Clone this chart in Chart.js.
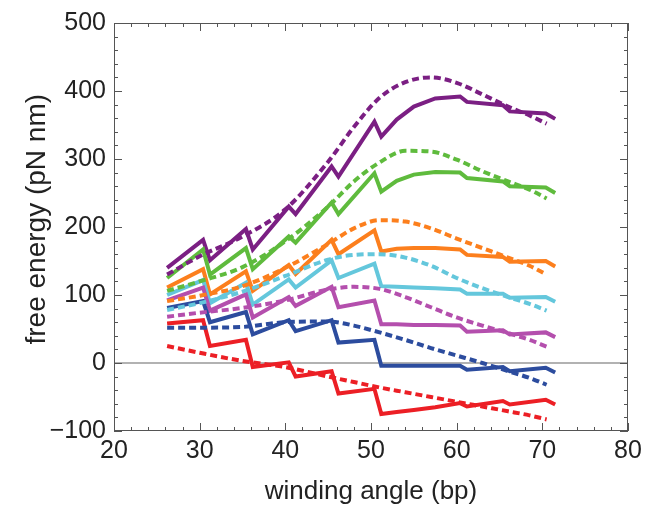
<!DOCTYPE html>
<html>
<head>
<meta charset="utf-8">
<script src="https://cdn.jsdelivr.net/npm/chart.js@4.4.0/dist/chart.umd.min.js"></script>
<style>
  html, body { margin: 0; padding: 0; background: #fff; }
</style>
</head>
<body>
<canvas id="energyChart" width="650" height="515"></canvas>
<script>
// x positions (bp) shared by the solid (simulation) curves and the dashed (model) curves
const solidX = [26.2, 30.4, 31.2, 35.4, 36.2, 40.4, 41.2, 45.4, 46.2, 50.4, 51.2, 53, 55, 57.5, 60.4, 61.2, 65.4, 66.2, 70.4, 71.5];
const dashX = [26.2, 30, 35, 40, 45, 48, 51, 54, 57, 60, 63, 66, 68.5, 70.5];

// solid curves, pN nm
const purpleSolid = [140, 181, 151, 197, 167, 230, 219, 289, 274, 355, 333, 358, 377, 389, 392, 384, 379, 370, 367, 359];
const greenSolid = [125, 167, 130, 169, 138, 186, 177, 236, 219, 279, 252, 268, 277, 281, 280, 272, 267, 260, 258, 250];
const orangeSolid = [111, 138, 101, 135, 106, 144, 131, 181, 160, 195, 164, 168, 169, 169, 167, 159, 156, 149, 150, 142];
const cyanSolid = [100, 122, 88, 118, 86, 123, 111, 151, 125, 146, 113, 112, 111, 110, 108, 102, 102, 96, 97, 90];
const magentaSolid = [92, 111, 77, 101, 67, 97, 84, 112, 82, 92, 57, 57, 56, 56, 55, 46, 48, 42, 45, 38];
const blueSolid = [81, 91, 60, 75, 42, 63, 47, 63, 30, 34, -4, -4, -4, -4, -4, -10, -6, -12, -7, -14];
const redSolid = [58, 63, 25, 34, -6, 1, -20, -12, -45, -38, -75, -72, -69, -65, -59, -64, -56, -61, -54, -61];

// dashed curves, pN nm
const purpleDash = [130, 157, 186, 226, 296, 347, 390, 413, 420, 412, 395, 377, 364, 352];
const greenDash = [106, 120, 141, 179, 230, 267, 295, 312, 311, 299, 282, 267, 255, 242];
const orangeDash = [91, 99, 113, 140, 175, 198, 210, 208, 198, 183, 169, 155, 143, 130];
const cyanDash = [78, 88, 105, 128, 152, 159, 160, 155, 143, 125, 110, 97, 87, 77];
const magentaDash = [68, 74, 81, 92, 108, 112, 109, 97, 82, 67, 55, 44, 34, 24];
const blueDash = [52, 52, 53, 60, 61, 55, 45, 34, 22, 11, 0, -12, -22, -32];
const redDash = [25, 15, 3, -6, -20, -28, -36, -43, -50, -57, -64, -71, -77, -83];

const zeroX = [20, 80];
const zeroY = [0, 0];

const colors = {
    purple: '#7b1f83',
    green: '#5fbb3d',
    orange: '#fc7f1d',
    cyan: '#64c7dc',
    magenta: '#b44fad',
    blue: '#2c4c9e',
    red: '#ec1f25'
};

function pts(xs, ys) {
    return xs.map((x, i) => ({ x: x, y: ys[i] }));
}

function solid(ys, color) {
    return {
        data: pts(solidX, ys),
        borderColor: color,
        borderWidth: 4,
        pointRadius: 0,
        tension: 0,
        order: 2
    };
}

function dashed(ys, color) {
    return {
        data: pts(dashX, ys),
        borderColor: color,
        borderWidth: 4,
        borderDash: [7, 4],
        pointRadius: 0,
        cubicInterpolationMode: 'monotone',
        order: 1
    };
}

// frame with inward ticks, Mathematica style
const frameTicks = {
    id: 'frameTicks',
    afterDatasetsDraw(chart) {
        const { ctx, chartArea: a, scales: { x, y } } = chart;
        ctx.save();
        ctx.strokeStyle = '#555';
        ctx.lineWidth = 1;
        ctx.strokeRect(a.left + 0.5, a.top + 0.5, a.right - a.left - 1, a.bottom - a.top - 1);
        ctx.beginPath();
        for (let v = 20; v <= 80; v += 2) {
            const px = Math.round(x.getPixelForValue(v)) + 0.5;
            const len = v % 10 === 0 ? 8 : 4;
            ctx.moveTo(px, a.bottom); ctx.lineTo(px, a.bottom - len);
            ctx.moveTo(px, a.top); ctx.lineTo(px, a.top + len);
        }
        for (let v = -100; v <= 500; v += 20) {
            const py = Math.round(y.getPixelForValue(v)) + 0.5;
            const len = v % 100 === 0 ? 8 : 4;
            ctx.moveTo(a.left, py); ctx.lineTo(a.left + len, py);
            ctx.moveTo(a.right, py); ctx.lineTo(a.right - len, py);
        }
        ctx.stroke();
        ctx.restore();
    }
};

const family = "'Liberation Sans', Arial, sans-serif";
const tickFont = { family: family, size: 25 };

new Chart(document.getElementById('energyChart').getContext('2d'), {
    type: 'scatter',
    data: {
        datasets: [
            dashed(redDash, colors.red),
            dashed(blueDash, colors.blue),
            dashed(magentaDash, colors.magenta),
            dashed(cyanDash, colors.cyan),
            dashed(orangeDash, colors.orange),
            dashed(greenDash, colors.green),
            dashed(purpleDash, colors.purple),
            solid(redSolid, colors.red),
            solid(blueSolid, colors.blue),
            solid(magentaSolid, colors.magenta),
            solid(cyanSolid, colors.cyan),
            solid(orangeSolid, colors.orange),
            solid(greenSolid, colors.green),
            solid(purpleSolid, colors.purple),
            {
                data: pts(zeroX, zeroY),
                borderColor: '#999',
                borderWidth: 1.5,
                pointRadius: 0,
                order: 3
            }
        ].map(d => Object.assign({ showLine: true, fill: false }, d))
    },
    options: {
        responsive: false,
        devicePixelRatio: 1,
        animation: false,
        layout: { padding: { top: 21, right: 22, left: 0, bottom: 0 } },
        plugins: {
            legend: { display: false },
            tooltip: { enabled: false }
        },
        scales: {
            x: {
                type: 'linear',
                min: 20,
                max: 80,
                grid: { display: false, drawTicks: false },
                border: { display: false },
                ticks: { stepSize: 10, color: '#222', font: tickFont, padding: 5, maxRotation: 0 },
                title: { display: true, text: 'winding angle (bp)', color: '#222', font: { family: family, size: 26 }, padding: { top: 0, bottom: 8 } },
                afterFit: s => { s.height = 84; }
            },
            y: {
                type: 'linear',
                min: -100,
                max: 500,
                grid: { display: false, drawTicks: false },
                border: { display: false },
                ticks: {
                    stepSize: 100,
                    color: '#222',
                    font: tickFont,
                    padding: 8,
                    callback: v => (v < 0 ? '\u2212' + Math.abs(v) : String(v))
                },
                title: { display: true, text: '  free energy (pN nm)', color: '#222', font: { family: family, size: 28 }, padding: { top: 20, bottom: 0 } },
                afterFit: s => { s.width = 114; }
            }
        }
    },
    plugins: [frameTicks]
});
</script>
</body>
</html>
